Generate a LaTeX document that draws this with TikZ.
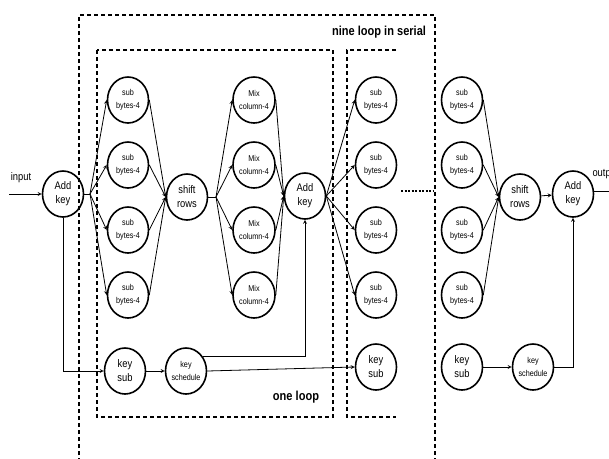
\documentclass[tikz,border=0pt]{standalone}
\usepackage{fontspec}
\setmainfont{Liberation Sans}[FakeStretch = 0.85]
\usetikzlibrary{shapes.geometric, calc}
\tikzset{
	blk/.style = {draw, ellipse, line width = 1.6pt, minimum width = 41pt, minimum height = 46pt, inner sep = 0pt, align = center, font = \fontsize{11}{14}\selectfont},
	small/.style = {font = \fontsize{8.5}{13}\selectfont},
	box/.style = {line width = 1.2pt, dash pattern = on 4pt off 3pt},
	link/.style = {line width = 0.8pt, -stealth},
	title/.style = {font = \bfseries\fontsize{13}{13}\selectfont},
}

\begin{document}
\begin{tikzpicture}[x = 1pt, y = -1pt]
	\useasboundingbox (0, 0) rectangle (609, 458);
	% dashed loop frames
	\draw[box] (79, 462) -- (79, 15) -- (435, 15) -- (435, 462);
	\draw[box] (97, 50) rectangle (333, 417);
	\draw[box] (396, 50) -- (347, 50) -- (347, 417) -- (396, 417);
	\node[title] (nine) at (379, 32) {nine loop in serial};
	\node[title] (one) at (296, 397) {one loop};
	% blocks
	\node[blk] (addA) at (63, 194) {Add\\key};
	\node[blk] (shiftA) at (187, 197) {shift\\rows};
	\node[blk] (addB) at (305, 196) {Add\\key};
	\node[blk] (shiftC) at (520, 197) {shift\\rows};
	\node[blk] (addC) at (573, 194) {Add\\key};
	\foreach \y [count = \i] in {100, 165, 230, 295} {
			\node[blk, small] (sbA\i) at (128, \y) {sub\\bytes-4};
			\node[blk, small] (mixA\i) at (254, \y) {Mix\\column-4};
			\node[blk, small] (sbB\i) at (376, \y) {sub\\bytes-4};
			\node[blk, small] (sbC\i) at (462, \y) {sub\\bytes-4};
		}
	\node[blk] (ksA) at (125, 371) {key\\sub};
	\node[blk, small] (kschA) at (186, 371) {key\\schedule};
	\node[blk] (ksB) at (376, 367) {key\\sub};
	\node[blk] (ksC) at (462, 367) {key\\sub};
	\node[blk, small] (kschC) at (533, 367) {key\\schedule};
	% input and output
	\node[font = \fontsize{11}{11}\selectfont] (input) at (21, 178) {input};
	\node[font = \fontsize{11}{11}\selectfont, anchor = west] (output) at (589, 174) {output};
	\coordinate (in) at (9, 194);
	\coordinate (out) at (615, 191);
	\coordinate (fanA) at (90, 194);
	\coordinate (fanB) at (216, 197);
	\coordinate (turnC) at (573, 367);
	\draw[link] (in) -- (addA.west);
	\draw[line width = 0.8pt] (addA.east) -- (fanA);
	\draw[line width = 0.8pt] (shiftA.east) -- (fanB);
	\foreach \i in {1, ..., 4} {
			\draw[link] (fanA) -- (sbA\i.west);
			\draw[link] (sbA\i.east) -- (shiftA.west);
			\draw[link] (fanB) -- (mixA\i.west);
			\draw[link] (mixA\i.east) -- (addB.west);
			\draw[link] (addB.east) -- (sbB\i.west);
			\draw[link] (sbC\i.east) -- (shiftC.west);
		}
	\draw[link] (shiftC) -- (addC);
	\draw[line width = 0.8pt] (addC.east |- out) -- (out);
	% key path
	\draw[link] (addA.south) |- (ksA.west);
	\draw[link] (ksA) -- (kschA);
	\draw[link] (kschA.40) -| (addB.south);
	\draw[link] (kschA.east) -- (ksB.west);
	\draw[link] (ksC) -- (kschC);
	\draw[link] (kschC.east) -- (turnC) -- (addC.south);
	% more rounds
	\draw[line width = 2.5pt, dash pattern = on 2pt off 1.5pt] (401, 191) -- (433, 191);
\end{tikzpicture}
\end{document}
